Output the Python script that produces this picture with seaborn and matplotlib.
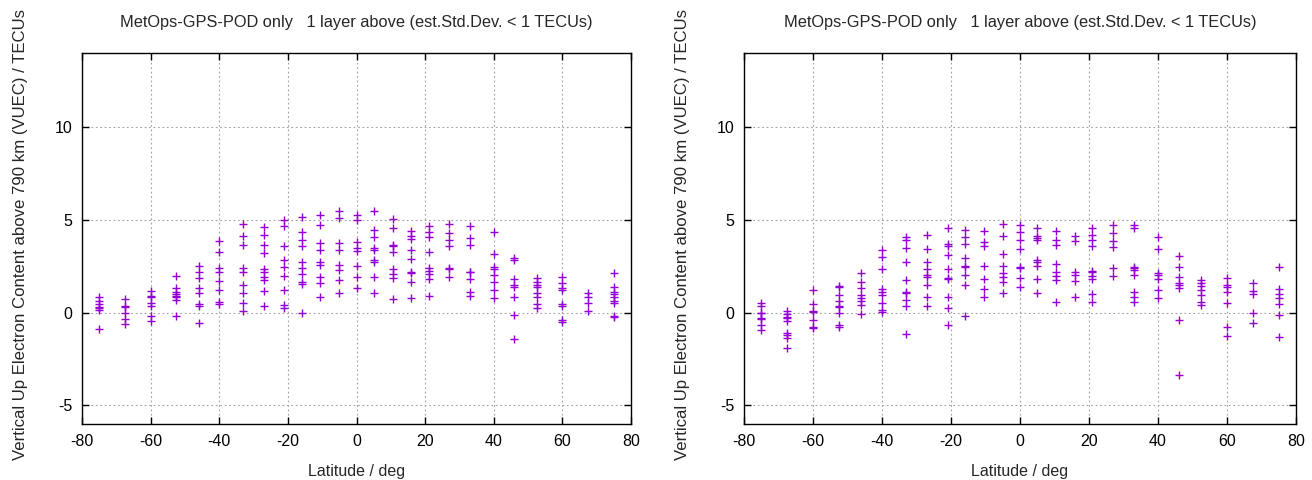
import numpy as np
import pandas as pd
import matplotlib
matplotlib.use("Agg")
import matplotlib.pyplot as plt
import seaborn as sns

latitudes = [-75, -67.5, -60, -52.5, -46, -40, -33, -27, -21, -16, -10.5, -5, 0,
             5, 10.5, 16, 21, 27, 33, 40, 46, 52.5, 60, 67.5, 75]

left_vuec = [
    [0.87, 0.65, 0.47, 0.32, 0.23, 0.14, -0.9],
    [0.72, 0.36, 0.32, 0.0, -0.36, -0.61],
    [1.19, 0.9, 0.83, 0.5, 0.36, -0.18, -0.45],
    [1.99, 1.32, 1.14, 1.01, 0.92, 0.83, 0.69, -0.18],
    [2.53, 2.22, 1.86, 1.32, 1.05, 0.47, 0.36, -0.54],
    [3.84, 3.25, 2.4, 2.17, 1.71, 1.23, 0.6, 0.47],
    [4.8, 4.12, 3.66, 2.4, 2.22, 1.5, 1.08, 0.54, 0.11],
    [4.62, 4.21, 3.66, 3.21, 2.35, 2.22, 1.95, 1.77, 1.19, 0.36],
    [5.02, 4.69, 3.61, 2.85, 2.49, 1.99, 1.23, 0.42, 0.23],
    [5.16, 4.33, 3.93, 3.57, 2.76, 2.4, 2.09, 1.68, 1.55, 0.0],
    [5.29, 4.75, 3.75, 3.39, 2.71, 2.58, 1.95, 1.62, 0.87],
    [5.47, 5.1, 3.75, 3.36, 2.58, 2.31, 1.77, 1.05],
    [5.29, 5.02, 3.79, 3.48, 3.3, 2.53, 1.95, 1.32],
    [5.47, 4.48, 4.08, 3.48, 3.39, 2.85, 2.76, 1.95, 1.05],
    [5.05, 4.57, 3.66, 3.61, 3.25, 2.35, 2.09, 1.86, 0.72],
    [4.39, 4.12, 3.97, 3.36, 2.89, 2.22, 2.13, 1.68, 0.78],
    [4.66, 4.33, 4.08, 3.25, 2.4, 2.27, 2.09, 1.81, 0.9],
    [4.8, 4.3, 3.9, 3.61, 2.4, 2.35, 1.95],
    [4.69, 4.03, 3.66, 2.22, 2.17, 1.81, 1.14, 0.9],
    [4.33, 3.18, 2.49, 2.35, 2.04, 1.68, 1.23, 0.78],
    [2.94, 2.82, 1.81, 1.5, 1.41, 0.83, -0.13, -1.44],
    [1.86, 1.68, 1.5, 1.41, 1.08, 0.87, 0.47, 0.23],
    [1.91, 1.59, 1.32, 1.23, 0.47, 0.36, -0.4, -0.49],
    [1.05, 0.83, 0.51, 0.09],
    [2.13, 1.37, 1.14, 1.01, 0.83, 0.65, 0.54, -0.18, -0.25],
]

right_vuec = [
    [0.54, 0.36, 0.0, -0.04, -0.31, -0.36, -0.67, -0.94],
    [0.11, -0.07, -0.22, -0.27, -0.43, -1.12, -1.21, -1.34, -1.88],
    [1.23, 0.47, 0.11, 0.05, -0.4, -0.79, -0.85],
    [1.44, 1.37, 0.96, 0.65, 0.36, 0.32, 0.0, -0.67, -0.76],
    [2.13, 1.68, 1.32, 0.96, 0.78, 0.65, 0.42, -0.07],
    [3.36, 3.0, 2.35, 1.26, 1.14, 0.96, 0.54, 0.14, 0.05],
    [4.08, 3.93, 3.48, 2.76, 1.77, 1.14, 1.05, 0.69, 0.36, -1.16],
    [4.21, 3.43, 2.76, 2.35, 2.04, 1.95, 1.5, 0.83, 0.36],
    [4.57, 3.72, 3.57, 3.12, 2.35, 1.86, 1.81, 0.83, 0.23, -0.67],
    [4.44, 4.08, 3.72, 2.94, 2.53, 2.44, 2.04, 1.5, -0.18],
    [4.39, 3.79, 3.61, 2.53, 1.81, 1.26, 0.83],
    [4.8, 4.12, 3.18, 2.53, 2.13, 1.91, 1.68, 1.05],
    [4.75, 4.33, 3.9, 3.43, 2.44, 2.4, 1.86, 1.37],
    [4.57, 4.15, 4.03, 3.93, 2.85, 2.76, 2.53, 1.81, 1.05],
    [4.39, 3.93, 3.66, 2.64, 2.22, 1.99, 1.77, 0.6],
    [4.12, 3.84, 2.22, 2.04, 1.73, 0.83],
    [4.57, 4.21, 3.93, 3.61, 2.27, 2.17, 1.99, 1.81, 1.01, 0.6],
    [4.75, 4.3, 3.84, 3.54, 2.4, 1.99],
    [4.75, 4.57, 2.49, 2.4, 2.31, 2.04, 1.14, 0.87, 0.6],
    [4.08, 3.43, 2.13, 2.04, 1.81, 1.23, 0.78],
    [3.07, 2.45, 1.91, 1.59, 1.5, 1.32, -0.4, -3.38],
    [1.77, 1.62, 1.44, 1.23, 0.96, 0.6, 0.42],
    [1.86, 1.5, 1.41, 1.14, 0.54, -0.79, -1.26],
    [1.62, 1.19, 1.01, -0.04, -0.54],
    [2.48, 1.29, 1.02, 0.81, 0.48, -0.11, -1.29],
]

title_text = "MetOps-GPS-POD only   1 layer above (est.Std.Dev. < 1 TECUs)"
x_label = "Latitude / deg"
y_label = "Vertical Up Electron Content above 790 km (VUEC) / TECUs"
x_ticks = [-80, -60, -40, -20, 0, 20, 40, 60, 80]
y_ticks = [-5, 0, 5, 10]


def to_frame(values):
    rows = []
    for lat, col in zip(latitudes, values):
        for v in col:
            rows.append((lat, v))
    return pd.DataFrame(rows, columns=["lat", "vuec"])


sns.set_theme(style="white")
plt.rcParams["font.family"] = ["Liberation Sans", "DejaVu Sans"]

fig = plt.figure(figsize=(13.12, 4.8), dpi=100)
ax_l = fig.add_axes([82 / 1312, 56 / 480, 549 / 1312, 371 / 480])
ax_r = fig.add_axes([744 / 1312, 56 / 480, 552 / 1312, 371 / 480])

for ax, vals in ((ax_l, left_vuec), (ax_r, right_vuec)):
    df = to_frame(vals)
    sns.scatterplot(data=df, x="lat", y="vuec", ax=ax, marker="+",
                    color="#9400D3", s=38, linewidth=1.0, legend=False, zorder=3)
    ax.set_xlim(-80, 80)
    ax.set_ylim(-6, 14)
    ax.set_xticks(x_ticks)
    ax.set_yticks(y_ticks)
    ax.set_xticklabels([str(t) for t in x_ticks])
    ax.set_yticklabels([str(t) for t in y_ticks])
    ax.grid(True, color="#a0a0a0", linestyle=(0, (1.5, 2.5)), linewidth=0.8)
    ax.tick_params(direction="in", length=5, width=1, top=True, right=True,
                   bottom=True, left=True, labelsize=11.5, colors="black",
                   pad=7)
    for sp in ax.spines.values():
        sp.set_color("black")
        sp.set_linewidth(1.0)
        sp.set_visible(True)
    ax.set_title(title_text, fontsize=11.8, pad=19)
    ax.set_xlabel(x_label, fontsize=11.5, labelpad=11)
    ax.set_ylabel(y_label, fontsize=12.1, labelpad=19)
    ax.yaxis.label.set_y(0.512)

fig.savefig("out.png", dpi=100, facecolor="white")
